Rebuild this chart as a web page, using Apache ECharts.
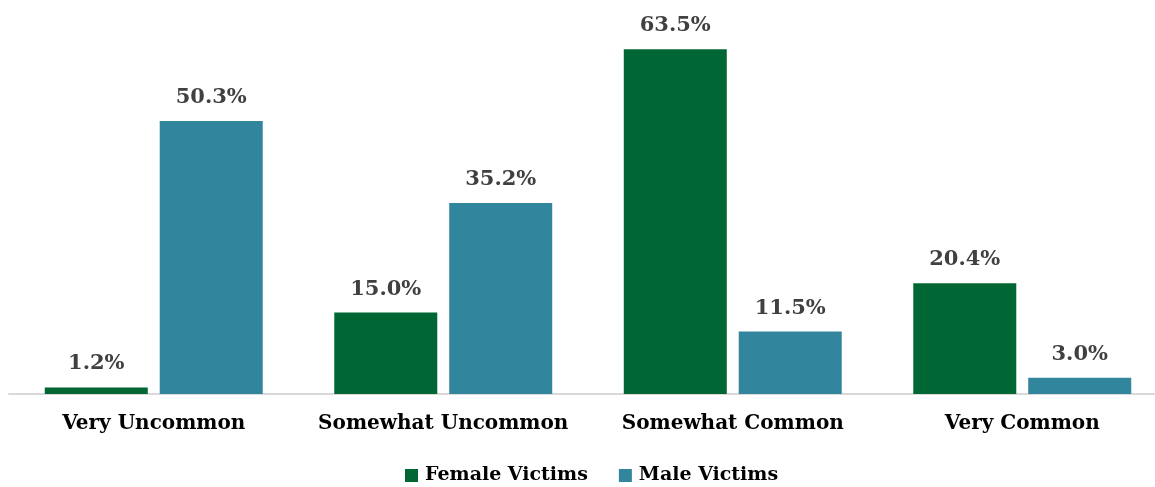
<!DOCTYPE html>
<html><head><meta charset="utf-8">
<script src="https://cdn.jsdelivr.net/npm/echarts@6/dist/echarts.min.js"></script>
<style>html,body{margin:0;padding:0;background:#fff}#c{width:1155px;height:487px}</style>
</head><body><div id="c"></div>
<script>
const categories = ["Very Uncommon", "Somewhat Uncommon", "Somewhat Common", "Very Common"];
const femaleVictims = [1.2, 15.0, 63.5, 20.4];
const maleVictims = [50.3, 35.2, 11.5, 3.0];
const seriesNames = ["Female Victims", "Male Victims"];

const FONT = "DejaVu Serif";
const chart = echarts.init(document.getElementById('c'));
const lbl = {
  show: true, position: 'top', distance: 13,
  formatter: p => p.value.toFixed(1) + '%',
  fontFamily: FONT, fontWeight: 'bold', fontSize: 21, color: '#404040'
};
chart.setOption({
  animation: false,
  grid: { left: 9, top: 14, width: 1158, height: 380, containLabel: false, outerBoundsMode: 'none' },
  legend: {
    bottom: -3, left: 400, itemWidth: 13, itemHeight: 13, itemGap: 31,
    icon: 'rect',
    textStyle: { fontFamily: FONT, fontWeight: 'bold', fontSize: 19, color: '#000', padding: [0, 0, 0, 2] },
    data: seriesNames
  },
  xAxis: {
    type: 'category', data: categories,
    axisLine: { lineStyle: { color: '#d9d9d9', width: 2 } },
    axisTick: { show: false },
    axisLabel: { interval: 0, margin: 20, fontFamily: FONT, fontWeight: 'bold', fontSize: 20, color: '#000' }
  },
  yAxis: { type: 'value', min: 0, max: 70, show: false, splitLine: { show: false } },
  series: [
    { name: seriesNames[0], type: 'bar', data: femaleVictims, barWidth: 103, barGap: '11.6%',
      itemStyle: { color: '#006633' }, label: lbl },
    { name: seriesNames[1], type: 'bar', data: maleVictims, barWidth: 103,
      itemStyle: { color: '#31859c' }, label: lbl }
  ]
});
</script></body></html>
